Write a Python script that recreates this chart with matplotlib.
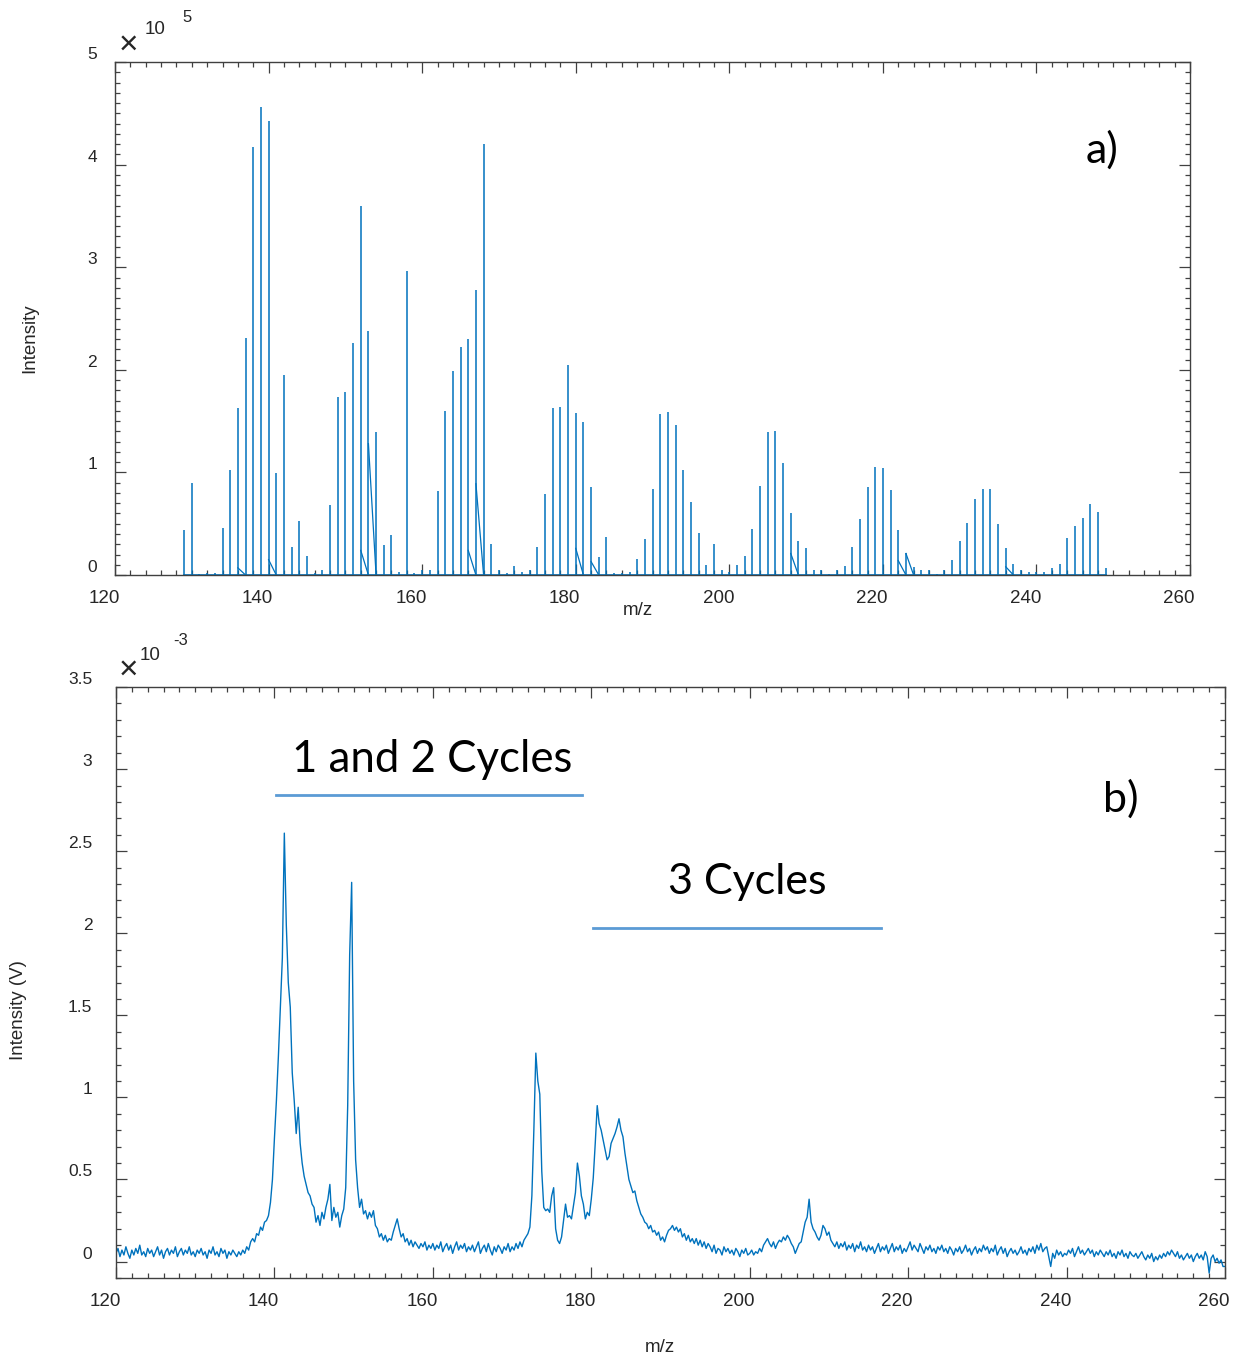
import numpy as np
import matplotlib.pyplot as plt
import matplotlib.transforms as mtransforms
from matplotlib.ticker import MultipleLocator, FormatStrFormatter

plt.rcParams['font.family'] = ['Liberation Sans', 'DejaVu Sans']

# ---- panel a) : stick spectrum, intensity in units of 1e5 ----
mz_a = list(range(129, 250))
int_a = [0.44, 0.90, 0.01, 0.02, 0.02, 0.46, 1.02, 1.63, 2.31, 4.17,
         4.56, 4.43, 0.99, 1.95, 0.27, 0.53, 0.19, 0.02, 0.05, 0.68,
         1.74, 1.78, 2.26, 3.60, 2.38, 1.39, 0.29, 0.39, 0.03, 2.96,
         0.02, 0.05, 0.05, 0.82, 1.60, 1.99, 2.22, 2.30, 2.78, 4.20,
         0.30, 0.05, 0.02, 0.09, 0.03, 0.05, 0.27, 0.79, 1.63, 1.64,
         2.05, 1.58, 1.49, 0.86, 0.18, 0.37, 0.02, 0.02, 0.03, 0.16,
         0.35, 0.84, 1.57, 1.59, 1.46, 1.02, 0.71, 0.41, 0.10, 0.30,
         0.05, 0.03, 0.10, 0.19, 0.45, 0.87, 1.39, 1.40, 1.09, 0.60,
         0.33, 0.26, 0.05, 0.05, 0.01, 0.05, 0.09, 0.27, 0.55, 0.86,
         1.05, 1.04, 0.83, 0.44, 0.21, 0.08, 0.05, 0.05, 0.01, 0.05,
         0.15, 0.33, 0.51, 0.74, 0.84, 0.84, 0.50, 0.26, 0.11, 0.05,
         0.03, 0.03, 0.03, 0.07, 0.11, 0.36, 0.48, 0.56, 0.69, 0.61,
         0.07]
# sloped leftovers of the line plot: from (m/z, h) down to (m/z + 1, 0)
tail_mz = [136, 140, 152, 153, 166, 167, 180, 182, 208, 222, 223, 236]
tail_h = [0.07, 0.15, 0.24, 1.28, 0.24, 0.89, 0.26, 0.13, 0.21, 0.14, 0.21, 0.08]

# ---- panel b) : measured trace, intensity in units of 1e-3 V ----
# one value every 0.25 m/z, starting at m/z 120
mz_b_start = 120.0
mz_b_step = 0.25
int_b = [
    0.05, 0.08, 0.03, 0.07, 0.04, 0.09, 0.05, 0.02, 0.07, 0.04, 0.08, 0.05, 0.10, 0.04, 0.06, 0.03, 0.08, 0.05, 0.07, 0.03,  # 120
    0.06, 0.09, 0.04, 0.07, 0.02, 0.06, 0.08, 0.04, 0.07, 0.05, 0.09, 0.03, 0.06, 0.08, 0.04, 0.07, 0.05, 0.09, 0.04, 0.06,  # 125
    0.03, 0.07, 0.05, 0.08, 0.04, 0.06, 0.02, 0.07, 0.05, 0.09, 0.04, 0.06, 0.03, 0.08, 0.05, 0.07, 0.02, 0.06, 0.04, 0.07,  # 130
    0.05, 0.03, 0.06, 0.04, 0.07, 0.05, 0.09, 0.07, 0.12, 0.14, 0.12, 0.17, 0.16, 0.21, 0.19, 0.24, 0.25, 0.28, 0.36, 0.50,  # 135
    0.75, 0.98, 1.25, 1.55, 1.85, 2.61, 2.05, 1.70, 1.55, 1.15, 0.98, 0.78, 0.94, 0.72, 0.60, 0.52, 0.47, 0.42, 0.40, 0.35,  # 140
    0.33, 0.24, 0.28, 0.22, 0.30, 0.26, 0.33, 0.38, 0.47, 0.25, 0.33, 0.27, 0.30, 0.21, 0.28, 0.32, 0.45, 0.95, 1.87, 2.31,  # 145
    1.10, 0.62, 0.45, 0.33, 0.38, 0.29, 0.31, 0.26, 0.30, 0.27, 0.31, 0.22, 0.20, 0.15, 0.17, 0.13, 0.16, 0.12, 0.14, 0.13,  # 150
    0.18, 0.22, 0.26, 0.20, 0.15, 0.17, 0.12, 0.14, 0.10, 0.13, 0.09, 0.12, 0.10, 0.08, 0.11, 0.09, 0.12, 0.07, 0.10, 0.08,  # 155
    0.11, 0.07, 0.10, 0.08, 0.12, 0.06, 0.09, 0.11, 0.07, 0.10, 0.05, 0.09, 0.12, 0.07, 0.10, 0.08, 0.11, 0.06, 0.09, 0.07,  # 160
    0.10, 0.06, 0.09, 0.12, 0.05, 0.08, 0.10, 0.06, 0.11, 0.07, 0.04, 0.09, 0.06, 0.10, 0.08, 0.05, 0.09, 0.07, 0.11, 0.06,  # 165
    0.09, 0.07, 0.11, 0.08, 0.12, 0.09, 0.13, 0.15, 0.17, 0.21, 0.40, 0.80, 1.27, 1.10, 1.02, 0.55, 0.33, 0.31, 0.32, 0.30,  # 170
    0.40, 0.45, 0.20, 0.13, 0.11, 0.15, 0.25, 0.35, 0.27, 0.28, 0.26, 0.34, 0.42, 0.60, 0.52, 0.40, 0.35, 0.26, 0.30, 0.28,  # 175
    0.38, 0.51, 0.72, 0.95, 0.84, 0.80, 0.74, 0.68, 0.62, 0.64, 0.72, 0.75, 0.78, 0.82, 0.87, 0.80, 0.76, 0.66, 0.58, 0.50,  # 180
    0.46, 0.42, 0.43, 0.37, 0.33, 0.29, 0.27, 0.24, 0.23, 0.20, 0.22, 0.18, 0.19, 0.16, 0.18, 0.13, 0.15, 0.12, 0.16, 0.19,  # 185
    0.20, 0.22, 0.19, 0.21, 0.18, 0.20, 0.15, 0.17, 0.13, 0.16, 0.12, 0.14, 0.11, 0.14, 0.10, 0.13, 0.09, 0.12, 0.08, 0.11,  # 190
    0.09, 0.06, 0.10, 0.05, 0.08, 0.07, 0.04, 0.09, 0.06, 0.08, 0.05, 0.07, 0.04, 0.08, 0.06, 0.03, 0.07, 0.05, 0.08, 0.04,  # 195
    0.05, 0.07, 0.04, 0.06, 0.05, 0.08, 0.06, 0.10, 0.12, 0.14, 0.11, 0.09, 0.12, 0.08, 0.11, 0.13, 0.12, 0.15, 0.13, 0.16,  # 200
    0.14, 0.11, 0.09, 0.05, 0.08, 0.11, 0.12, 0.18, 0.24, 0.27, 0.38, 0.24, 0.20, 0.18, 0.15, 0.13, 0.16, 0.22, 0.20, 0.16,  # 205
    0.18, 0.13, 0.11, 0.09, 0.12, 0.08, 0.11, 0.09, 0.12, 0.07, 0.10, 0.08, 0.11, 0.06, 0.10, 0.08, 0.12, 0.07, 0.09, 0.06,  # 210
    0.10, 0.07, 0.09, 0.05, 0.08, 0.11, 0.06, 0.09, 0.07, 0.10, 0.05, 0.08, 0.11, 0.06, 0.09, 0.07, 0.10, 0.05, 0.08, 0.06,  # 215
    0.09, 0.12, 0.07, 0.10, 0.08, 0.06, 0.11, 0.08, 0.05, 0.09, 0.07, 0.10, 0.06, 0.08, 0.05, 0.09, 0.07, 0.10, 0.06, 0.08,  # 220
    0.05, 0.09, 0.07, 0.04, 0.08, 0.06, 0.09, 0.05, 0.07, 0.10, 0.06, 0.08, 0.04, 0.07, 0.09, 0.05, 0.08, 0.06, 0.10, 0.07,  # 225
    0.09, 0.05, 0.08, 0.06, 0.10, 0.04, 0.07, 0.09, 0.05, 0.08, 0.03, 0.06, 0.08, 0.05, 0.07, 0.04, 0.06, 0.09, 0.05, 0.07,  # 230
    0.04, 0.08, 0.06, 0.09, 0.05, 0.10, 0.07, 0.11, 0.06, 0.08, 0.09, 0.03, -0.03, 0.05, 0.02, 0.07, 0.04, 0.06, 0.03, 0.05,  # 235
    0.04, 0.07, 0.05, 0.08, 0.03, 0.06, 0.09, 0.05, 0.07, 0.04, 0.06, 0.08, 0.05, 0.07, 0.03, 0.06, 0.04, 0.07, 0.05, 0.03,  # 240
    0.06, 0.04, 0.07, 0.03, 0.05, 0.02, 0.06, 0.04, 0.07, 0.03, 0.05, 0.02, 0.06, 0.04, 0.03, 0.05, 0.02, 0.04, 0.06, 0.03,  # 245
    0.01, 0.04, 0.02, 0.05, 0.00, 0.03, 0.01, 0.04, 0.02, 0.05, 0.03, 0.06, 0.04, 0.07, 0.05, 0.03, 0.06, 0.02, 0.04, 0.01,  # 250
    0.03, 0.05, 0.02, 0.04, 0.00, 0.03, 0.05, 0.02, 0.04, 0.01, 0.06, 0.03, -0.07, 0.02, 0.04, 0.00, 0.02, -0.01, 0.01, -0.03,  # 255
    -0.03]

# annotation bars in panel b (m/z from, m/z to, level)
bar12 = (140.2, 178.8, 2.84)
bar3 = (180.2, 216.6, 2.03)

blue = '#0072BD'
axcol = '#404040'
txtcol = '#262626'

fig = plt.figure(figsize=(12.34, 13.61), dpi=100)
ax_a = fig.add_axes([0.0932, 0.5775, 0.8712, 0.3769])
ax_b = fig.add_axes([0.0940, 0.0610, 0.8987, 0.4342])

# panel a
ax_a.plot([mz_a[0], mz_a[-1]], [0, 0], color=blue, lw=1.2)
ax_a.vlines(mz_a, 0, int_a, color=blue, lw=1.1)
for m, h in zip(tail_mz, tail_h):
    ax_a.plot([m, m + 1], [h, 0], color=blue, lw=0.9)
ax_a.set_ylim(0, 5)
ax_a.yaxis.set_major_locator(MultipleLocator(1))
ax_a.yaxis.set_minor_locator(MultipleLocator(0.1))

# panel b
mz_b = mz_b_start + mz_b_step * np.arange(len(int_b))
ax_b.plot(mz_b, int_b, color=blue, lw=1.0)
ax_b.set_ylim(-0.1, 3.5)
ax_b.yaxis.set_major_locator(MultipleLocator(0.5))
ax_b.yaxis.set_minor_locator(MultipleLocator(0.1))
ax_b.yaxis.set_major_formatter(FormatStrFormatter('%g'))

bar_col = '#5B9BD5'
ax_b.plot(bar12[:2], [bar12[2]] * 2, color=bar_col, lw=2)
ax_b.plot(bar3[:2], [bar3[2]] * 2, color=bar_col, lw=2)
ax_b.text(159.9, 3.06, '1 and 2 Cycles', family='Lato', fontsize=31.5,
          ha='center', va='center', color='black')
ax_b.text(199.7, 2.31, '3 Cycles', family='Lato', fontsize=31,
          ha='center', va='center', color='black')
ax_b.text(246.8, 2.82, 'b)', family='Lato', fontsize=31,
          ha='center', va='center', color='black')
ax_a.text(248.5, 4.14, 'a)', family='Lato', fontsize=31,
          ha='center', va='center', color='black')

dx = mtransforms.ScaledTranslation(-11 / 100, 0, fig.dpi_scale_trans)
dy = mtransforms.ScaledTranslation(0, 9 / 100, fig.dpi_scale_trans)
for ax, ypad in ((ax_a, 13), (ax_b, 17)):
    ax.set_xlim(120, 260)
    ax.xaxis.set_major_locator(MultipleLocator(20))
    ax.xaxis.set_minor_locator(MultipleLocator(2))
    ax.tick_params(which='both', direction='in', top=True, right=True,
                   color=axcol, width=0.9)
    ax.tick_params(which='major', length=8)
    ax.tick_params(which='minor', length=3.6)
    ax.tick_params(axis='x', labelsize=13.5, pad=11, labelcolor=txtcol)
    ax.tick_params(axis='y', labelsize=12.5, pad=ypad, labelcolor=txtcol)
    for s in ax.spines.values():
        s.set_color(axcol)
        s.set_linewidth(1.0)
    for lab in ax.get_xticklabels():
        lab.set_transform(lab.get_transform() + dx)
    for lab in ax.get_yticklabels():
        lab.set_transform(lab.get_transform() + dy)

# axis labels and exponent markers (figure pixel positions)
W, H = 1234, 1361
def ftext(x, y, s, **kw):
    fig.text(x / W, 1 - y / H, s, ha='center', va='center', color=txtcol, **kw)

ftext(638, 611, 'm/z', fontsize=13.5)
ftext(660, 1348, 'm/z', fontsize=13.5)
ftext(30, 338, 'Intensity', fontsize=13.5, rotation=90)
ftext(19, 1010, 'Intensity (V)', fontsize=13.5, rotation=90)

ftext(128, 45, '\u00d7', fontsize=24)
ftext(155, 30, '10', fontsize=13.5)
ftext(187, 18, '5', fontsize=12)
ftext(128, 670, '\u00d7', fontsize=24)
ftext(150, 655, '10', fontsize=13.5)
ftext(181, 641, '-3', fontsize=12)

fig.savefig('out.png', dpi=100)
